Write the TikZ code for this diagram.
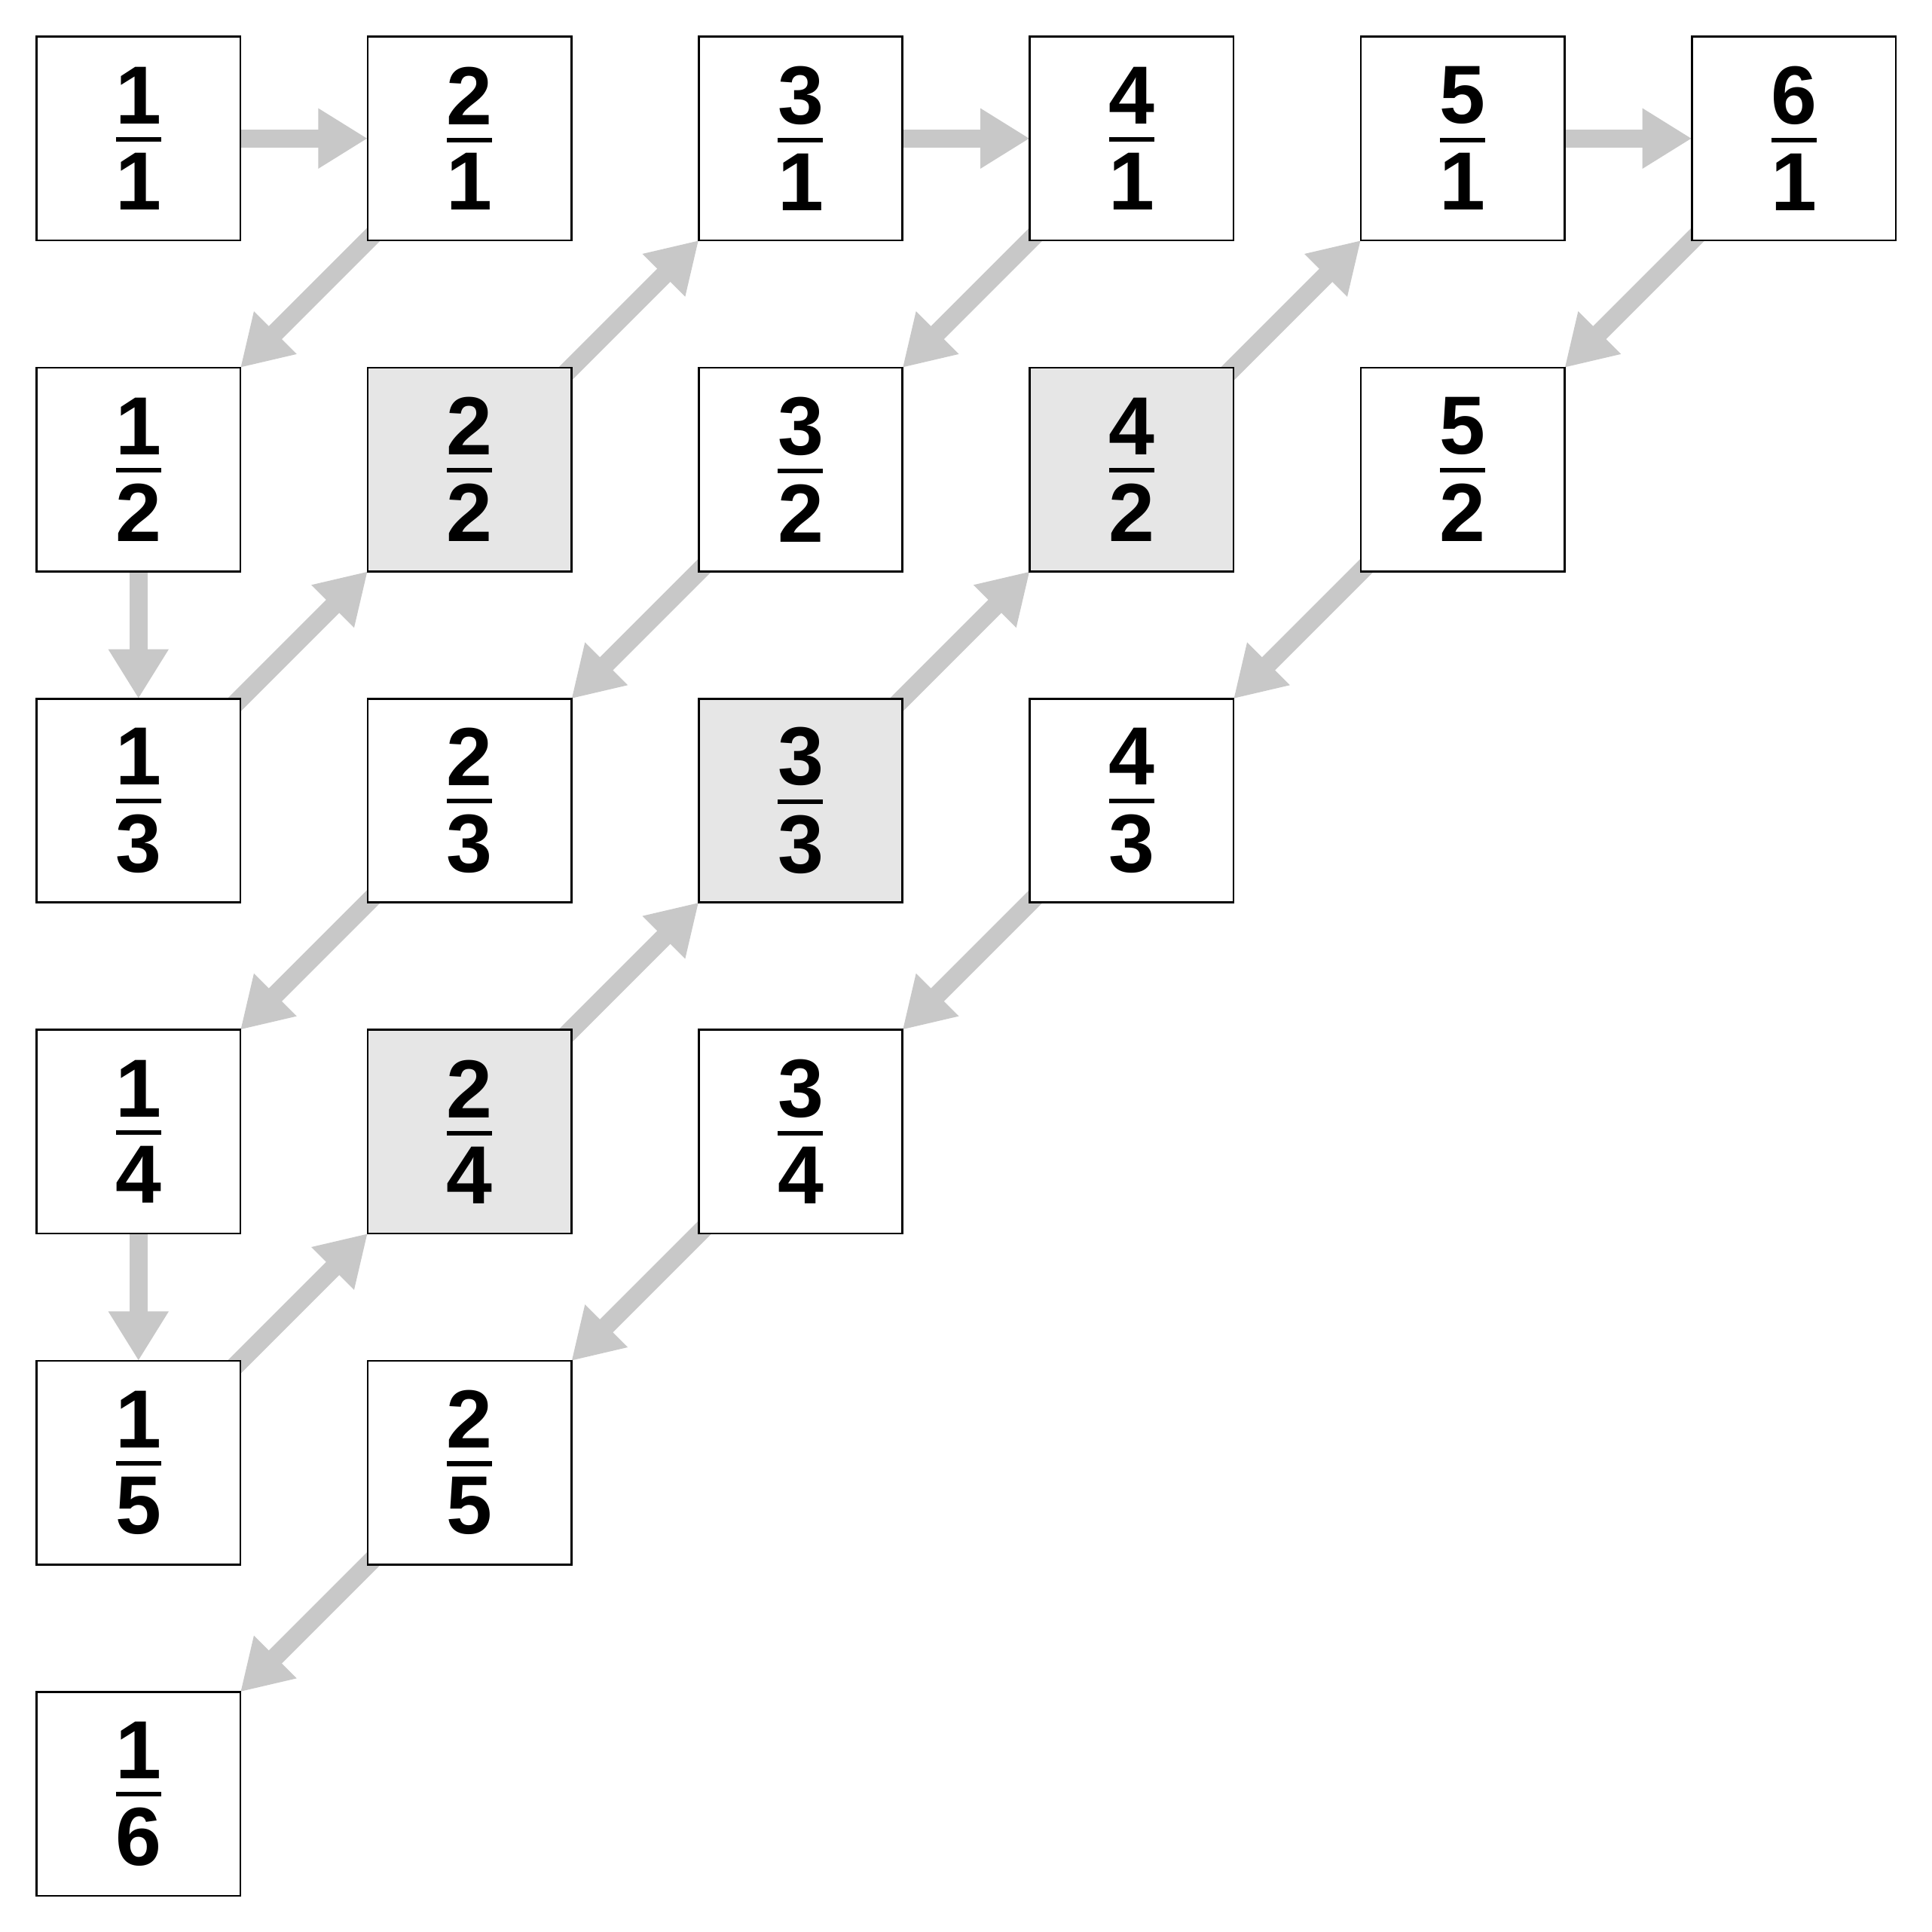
\documentclass[tikz,border=0pt]{standalone}
\usepackage{fontspec}
\setmainfont{Liberation Sans}
\usepackage{tikz}
\usetikzlibrary{arrows.meta,backgrounds}

\definecolor{arrgray}{RGB}{200,200,200}
\definecolor{boxgray}{RGB}{230,230,230}

\newcommand{\frc}[2]{\vbox{\offinterlineskip\halign{\hfil##\hfil\cr
  #1\cr\noalign{\kern3.05pt}\vrule width 0.366cm height 1.05pt depth 0pt\cr
  \noalign{\kern2.6pt}#2\cr}}}

\begin{document}
\begin{tikzpicture}[
    box/.style={draw, line width=0.45pt, fill=white, minimum width=1.65cm,
      minimum height=1.65cm, inner sep=0pt, outer sep=0pt,
      font=\fontsize{19}{21}\selectfont\bfseries},
    gbox/.style={box, fill=boxgray},
    arr/.style={draw=arrgray, line width=4.25pt,
      -{Triangle[length=0.4cm, width=0.46cm, fill=arrgray]}}]

    \useasboundingbox (0, 0) rectangle (15.64, 15.634);

    % first row
    \node[box] (a) at (1.121, 14.513) {\frc{1}{1}};
    \node[box] (b) at (3.801, 14.513) {\frc{2}{1}};
    \node[box] (c) at (6.481, 14.513) {\frc{3}{1}};
    \node[box] (d) at (9.161, 14.513) {\frc{4}{1}};
    \node[box] (e) at (11.841, 14.513) {\frc{5}{1}};
    \node[box] (f) at (14.521, 14.513) {\frc{6}{1}};
    % second row
    \node[box] (g) at (1.121, 11.833) {\frc{1}{2}};
    \node[gbox] (h) at (3.801, 11.833) {\frc{2}{2}};
    \node[box] (i) at (6.481, 11.833) {\frc{3}{2}};
    \node[gbox] (j) at (9.161, 11.833) {\frc{4}{2}};
    \node[box] (k) at (11.841, 11.833) {\frc{5}{2}};
    % third row
    \node[box] (l) at (1.121, 9.153) {\frc{1}{3}};
    \node[box] (m) at (3.801, 9.153) {\frc{2}{3}};
    \node[gbox] (n) at (6.481, 9.153) {\frc{3}{3}};
    \node[box] (o) at (9.161, 9.153) {\frc{4}{3}};
    % fourth row
    \node[box] (p) at (1.121, 6.473) {\frc{1}{4}};
    \node[gbox] (q) at (3.801, 6.473) {\frc{2}{4}};
    \node[box] (r) at (6.481, 6.473) {\frc{3}{4}};
    % fifth and sixth row
    \node[box] (s) at (1.121, 3.793) {\frc{1}{5}};
    \node[box] (t) at (3.801, 3.793) {\frc{2}{5}};
    \node[box] (u) at (1.121, 1.113) {\frc{1}{6}};

    \begin{pgfonlayer}{background}
    \draw [arr] (a) to (b);
    \draw [arr] (b.center) to (g.north east);
    \draw [arr] (g) to (l);
    \draw [arr] (l.center) to (h.south west);
    \draw [arr] (h.center) to (c.south west);
    \draw [arr] (c) to (d);
    \draw [arr] (d.center) to (i.north east);
    \draw [arr] (i.center) to (m.north east);
    \draw [arr] (m.center) to (p.north east);
    \draw [arr] (p) to (s);
    \draw [arr] (s.center) to (q.south west);
    \draw [arr] (q.center) to (n.south west);
    \draw [arr] (n.center) to (j.south west);
    \draw [arr] (j.center) to (e.south west);
    \draw [arr] (e) to (f);
    \draw [arr] (f.center) to (k.north east);
    \draw [arr] (k.center) to (o.north east);
    \draw [arr] (o.center) to (r.north east);
    \draw [arr] (r.center) to (t.north east);
    \draw [arr] (t.center) to (u.north east);
    \end{pgfonlayer}

\end{tikzpicture}
\end{document}
